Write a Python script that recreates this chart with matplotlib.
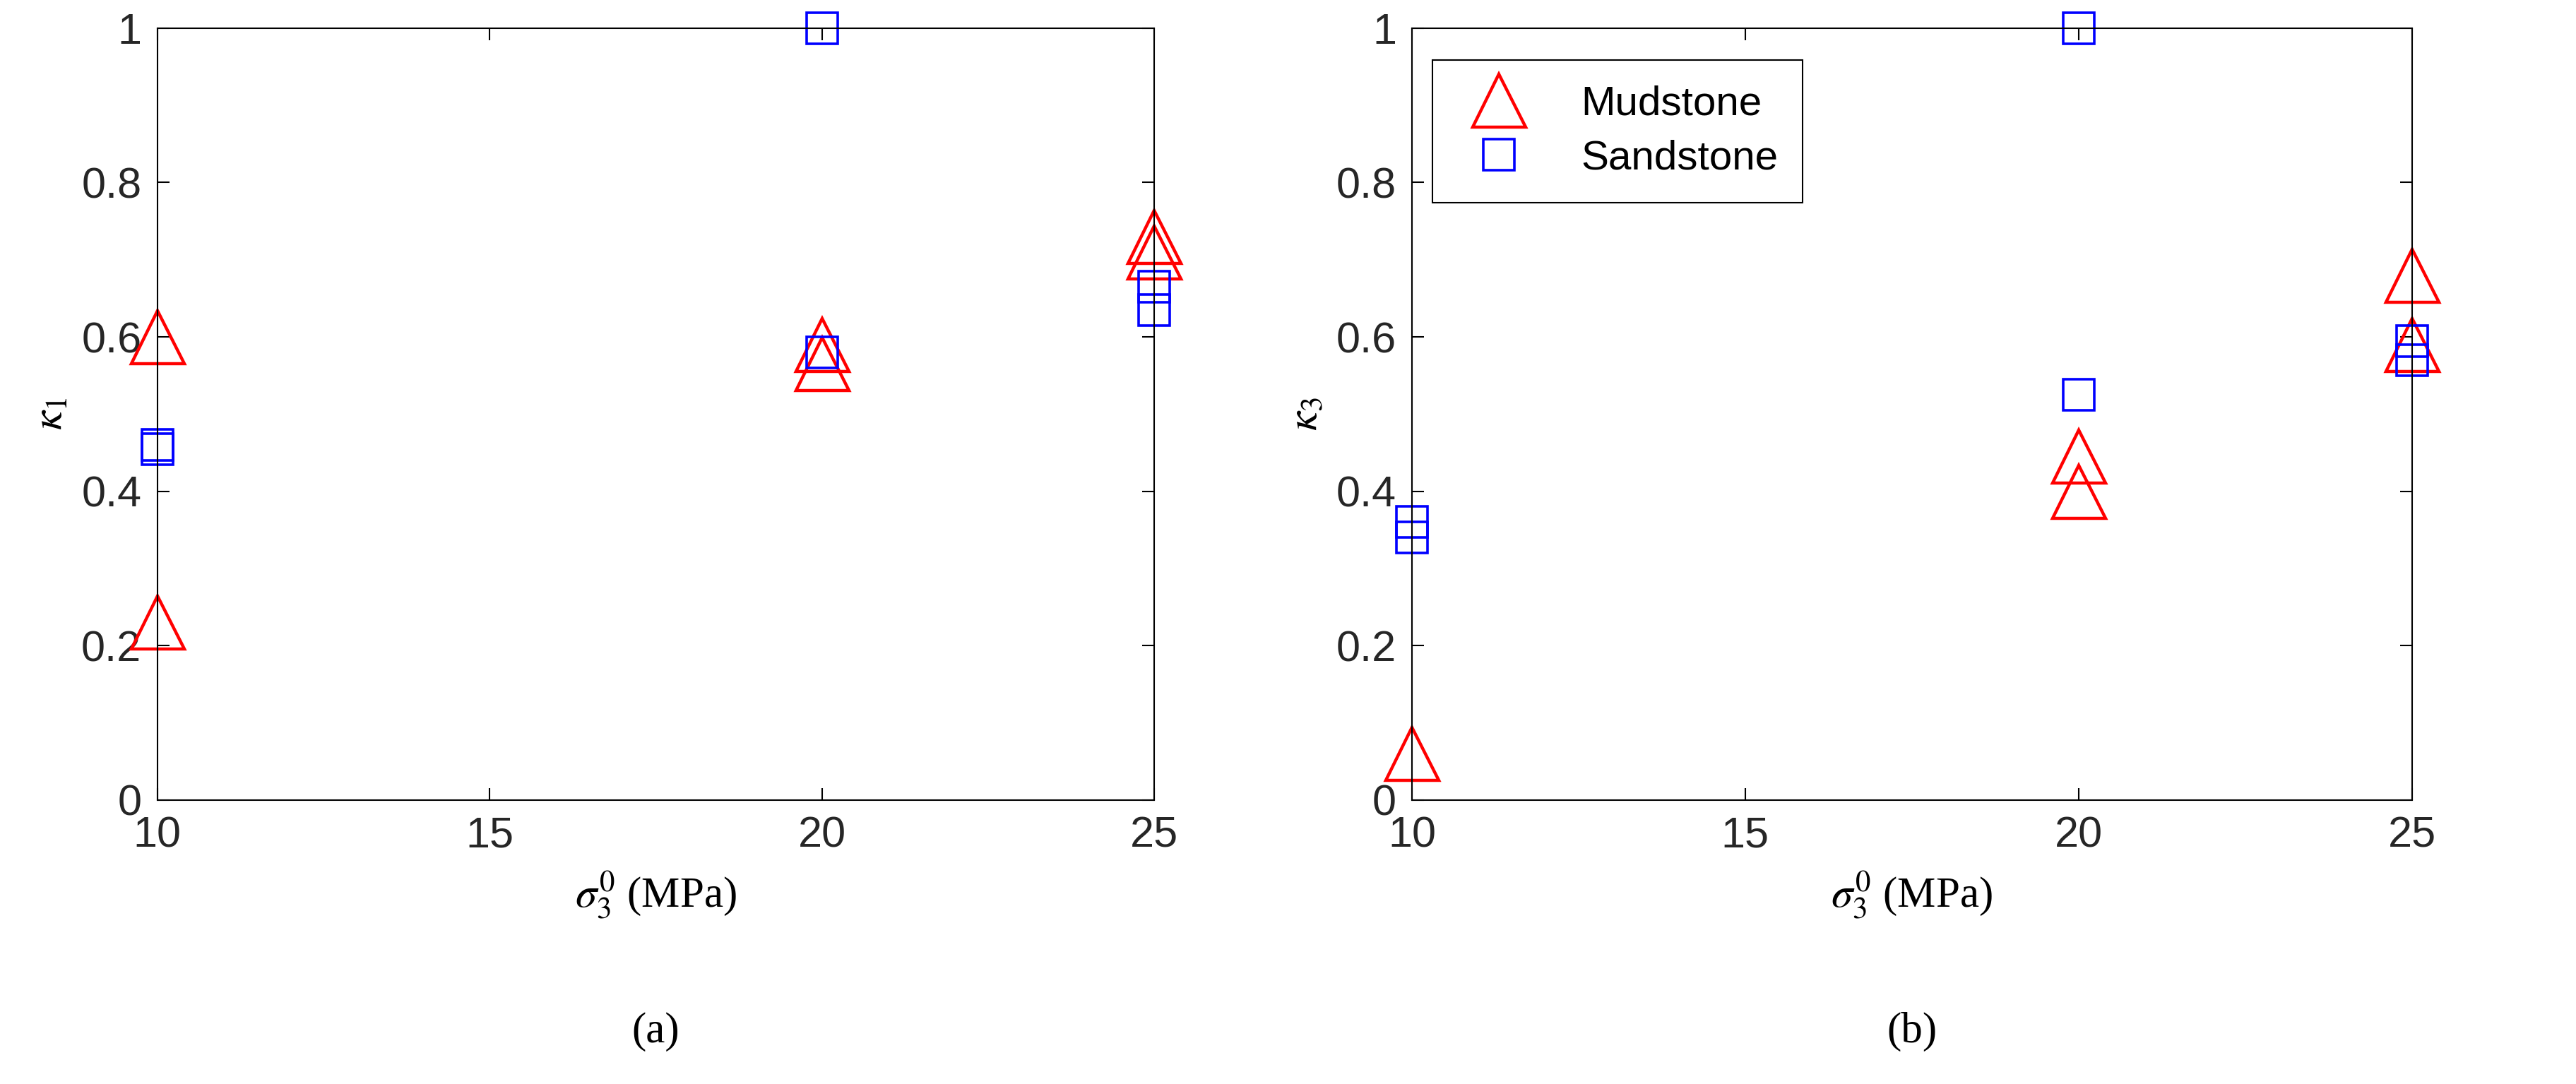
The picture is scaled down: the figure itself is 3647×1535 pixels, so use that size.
import matplotlib
matplotlib.use("Agg")
import matplotlib.pyplot as plt

plt.rcParams["mathtext.fontset"] = "stix"

# panel (a): kappa_1
mud_x_a = [10, 10, 20, 20, 25, 25]
mud_y_a = [0.60, 0.23, 0.59, 0.565, 0.73, 0.71]
sand_x_a = [10, 10, 20, 20, 25, 25]
sand_y_a = [0.46, 0.455, 1.0, 0.58, 0.665, 0.635]

# panel (b): kappa_3
mud_x_b = [10, 20, 20, 25, 25]
mud_y_b = [0.06, 0.445, 0.40, 0.68, 0.59]
sand_x_b = [10, 10, 20, 20, 25, 25]
sand_y_b = [0.36, 0.34, 1.0, 0.525, 0.595, 0.57]

xticks = [10, 15, 20, 25]
yticks = [0, 0.2, 0.4, 0.6, 0.8, 1]
ytick_labels = ["0", "0.2", "0.4", "0.6", "0.8", "1"]

fig = plt.figure(figsize=(36.48, 15.35), dpi=100)
ax1 = fig.add_axes([0.061, 0.262, 0.387, 0.712])
ax2 = fig.add_axes([0.548, 0.262, 0.388, 0.712])

panels = [
    (ax1, mud_x_a, mud_y_a, sand_x_a, sand_y_a, r"$\kappa_1$", "(a)"),
    (ax2, mud_x_b, mud_y_b, sand_x_b, sand_y_b, r"$\kappa_3$", "(b)"),
]
for ax, mx, my, sx, sy, ylab, tag in panels:
    ax.plot(mx, my, "^", ms=54, mfc="none", mec="red", mew=3.2, label="Mudstone",
            clip_on=False)
    ax.plot(sx, sy, "s", ms=32, mfc="none", mec="blue", mew=2.6, label="Sandstone",
            clip_on=False)
    ax.set_xlim(10, 25)
    ax.set_ylim(0, 1)
    ax.set_xticks(xticks)
    ax.set_yticks(yticks)
    ax.set_yticklabels(ytick_labels)
    for lab in ax.get_xticklabels() + ax.get_yticklabels():
        lab.set_family("Liberation Sans")
        lab.set_fontsize(44)
        lab.set_color("#262626")
    ax.tick_params(direction="in", length=12, width=1.5, pad=16,
                   top=True, right=True)
    for sp in ax.spines.values():
        sp.set_linewidth(1.5)
    ax.set_xlabel(r"$\sigma_3^0$ (MPa)", family="Liberation Serif", fontsize=44,
                  labelpad=14)
    ax.set_ylabel(ylab, family="Liberation Serif", fontsize=44, labelpad=10)
    ax.text(0.5, -0.3, tag, transform=ax.transAxes, ha="center", va="center",
            family="Liberation Serif", fontsize=44)

leg = ax2.legend(loc="upper left", bbox_to_anchor=(0.0, 0.985),
                 fancybox=False, edgecolor="black", framealpha=1,
                 handletextpad=1.0, borderpad=0.6, labelspacing=0.4,
                 prop={"family": "Liberation Sans", "size": 42})
leg.get_frame().set_linewidth(1.5)

fig.savefig("out.png", dpi=100)
